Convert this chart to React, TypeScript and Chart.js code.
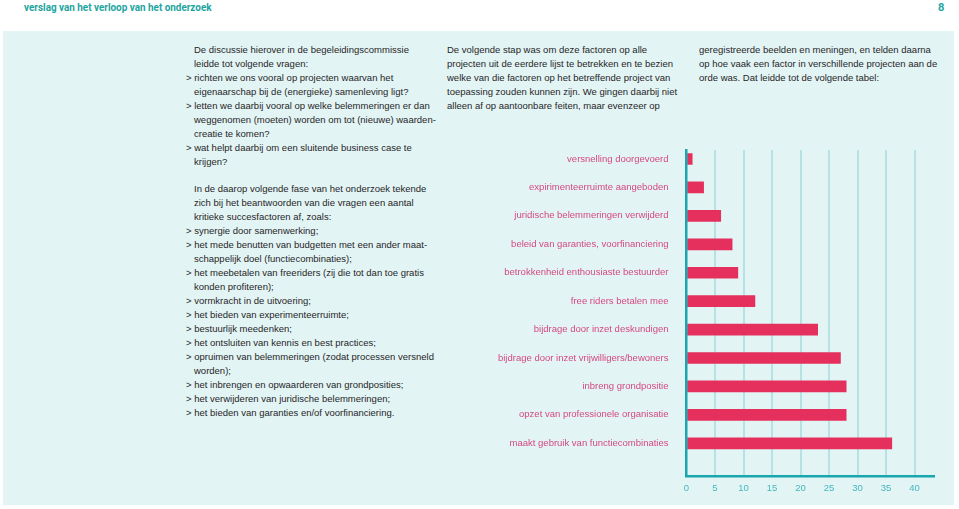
import React, { useEffect, useRef } from "react";
import { Chart, registerables } from "chart.js";

Chart.register(...registerables);

const categories = [
  "versnelling doorgevoerd",
  "expirimenteerruimte aangeboden",
  "juridische belemmeringen verwijderd",
  "beleid van garanties, voorfinanciering",
  "betrokkenheid enthousiaste bestuurder",
  "free riders betalen mee",
  "bijdrage door inzet deskundigen",
  "bijdrage door inzet vrijwilligers/bewoners",
  "inbreng grondpositie",
  "opzet van professionele organisatie",
  "maakt gebruik van functiecombinaties",
];
const counts = [1, 3, 6, 8, 9, 12, 23, 27, 28, 28, 36];
const xTickValues = [0, 5, 10, 15, 20, 25, 30, 35, 40];

const headerTitle = "verslag van het verloop van het onderzoek";
const pageNumber = "8";

const block1 = [
  "De discussie hierover in de begeleidingscommissie",
  "leidde tot volgende vragen:",
  "> richten we ons vooral op projecten waarvan het",
  "eigenaarschap bij de (energieke) samenleving ligt?",
  "> letten we daarbij vooral op welke belemmeringen er dan",
  "weggenomen (moeten) worden om tot (nieuwe) waarden-",
  "creatie te komen?",
  "> wat helpt daarbij om een sluitende business case te",
  "krijgen?",
];
const block2 = [
  "In de daarop volgende fase van het onderzoek tekende",
  "zich bij het beantwoorden van die vragen een aantal",
  "kritieke succesfactoren af, zoals:",
  "> synergie door samenwerking;",
  "> het mede benutten van budgetten met een ander maat-",
  "schappelijk doel (functiecombinaties);",
  "> het meebetalen van freeriders (zij die tot dan toe gratis",
  "konden profiteren);",
  "> vormkracht in de uitvoering;",
  "> het bieden van experimenteerruimte;",
  "> bestuurlijk meedenken;",
  "> het ontsluiten van kennis en best practices;",
  "> opruimen van belemmeringen (zodat processen versneld",
  "worden);",
  "> het inbrengen en opwaarderen van grondposities;",
  "> het verwijderen van juridische belemmeringen;",
  "> het bieden van garanties en/of voorfinanciering.",
];
const block3 = [
  "De volgende stap was om deze factoren op alle",
  "projecten uit de eerdere lijst te betrekken en te bezien",
  "welke van die factoren op het betreffende project van",
  "toepassing zouden kunnen zijn. We gingen daarbij niet",
  "alleen af op aantoonbare feiten, maar evenzeer op",
];
const block4 = [
  "geregistreerde beelden en meningen, en telden daarna",
  "op hoe vaak een factor in verschillende projecten aan de",
  "orde was. Dat leidde tot de volgende tabel:",
];

const FONT = "'Liberation Sans', Arial, Helvetica, sans-serif";
const TEXT_COLOR = "#262626";

function TextBlock({ lines, left, top, bulletLeft }: { lines: string[]; left: number; top: number; bulletLeft?: number }) {
  return (
    <>
      {lines.map((ln, i) => {
        const isBullet = ln.startsWith("> ");
        return (
          <div
            key={i}
            style={{
              position: "absolute",
              left: isBullet && bulletLeft !== undefined ? bulletLeft : left,
              top: top + i * 14,
              height: 14,
              lineHeight: "14px",
              fontSize: "9.5px",
              fontFamily: FONT,
              color: TEXT_COLOR,
              whiteSpace: "pre",
            }}
          >
            {ln}
          </div>
        );
      })}
    </>
  );
}

function BarChart() {
  const ref = useRef<HTMLCanvasElement | null>(null);
  useEffect(() => {
    if (!ref.current) return;
    const chart = new Chart(ref.current, {
      type: "bar",
      data: {
        datasets: [
          {
            data: counts.map((v, i) => ({ x: v, y: i })),
            backgroundColor: "#e5305e",
            borderWidth: 0,
            barThickness: 11,
          },
        ],
      },
      options: {
        indexAxis: "y",
        animation: false,
        responsive: false,
        maintainAspectRatio: false,
        devicePixelRatio: 1,
        layout: { padding: { top: 20, right: 16, left: 0, bottom: 0 } },
        plugins: { legend: { display: false }, tooltip: { enabled: false } },
        scales: {
          x: {
            type: "linear",
            min: 0,
            max: 43.4,
            offset: false,
            afterBuildTicks: (scale: any) => {
              scale.ticks = xTickValues.map((v) => ({ value: v }));
            },
            afterFit: (scale: any) => {
              scale.height = 28.3;
            },
            grid: {
              drawTicks: false,
              lineWidth: 2,
              color: (ctx: any) => (ctx.tick && ctx.tick.value === 0 ? "rgba(0,0,0,0)" : "#b6e1e5"),
            },
            border: { display: true, color: "#1aa6af", width: 2.5, z: 1 },
            ticks: {
              color: "#45b6be",
              padding: 6,
              font: { family: FONT, size: 9.5 },
              maxRotation: 0,
            },
          },
          y: {
            type: "linear",
            reverse: true,
            offset: false,
            min: -0.317,
            max: 11.175,
            afterBuildTicks: (scale: any) => {
              scale.ticks = categories.map((_, i) => ({ value: i }));
            },
            afterFit: (scale: any) => {
              scale.width = 196.5;
            },
            grid: { display: false, offset: false },
            border: { display: true, color: "#1aa6af", width: 2.5, z: 1 },
            ticks: {
              color: "#d4497f",
              padding: 10,
              font: { family: FONT, size: 9.5 },
              callback: (v: any) => categories[v as number] ?? "",
            },
          },
        },
      },
    });
    return () => chart.destroy();
  }, []);
  return (
    <canvas
      ref={ref}
      width={460}
      height={375}
      style={{ position: "absolute", left: 490, top: 130, width: 460, height: 375 }}
    />
  );
}

export default function App() {
  return (
    <div
      style={{
        position: "absolute",
        left: 0,
        top: 0,
        width: 959,
        height: 509,
        background: "#ffffff",
        overflow: "hidden",
      }}
    >
      <div
        style={{
          position: "absolute",
          left: 3,
          top: 31,
          width: 951,
          height: 474,
          background: "#e3f4f5",
        }}
      />
      <div
        style={{
          position: "absolute",
          left: 24,
          top: 0,
          height: 16,
          lineHeight: "16px",
          fontFamily: "Roboto, " + FONT,
          fontWeight: 700,
          fontSize: "11px",
          color: "#1ea5a0",
          whiteSpace: "pre",
          transform: "scaleX(0.9)",
          transformOrigin: "left center",
        }}
      >
        {headerTitle}
      </div>
      <div
        style={{
          position: "absolute",
          left: 938,
          top: 0,
          height: 16,
          lineHeight: "16px",
          fontFamily: "Roboto, " + FONT,
          fontWeight: 700,
          fontSize: "11px",
          color: "#1ea5a0",
        }}
      >
        {pageNumber}
      </div>
      <TextBlock lines={block1} left={194} bulletLeft={186} top={42.7} />
      <TextBlock lines={block2} left={194} bulletLeft={186} top={182.3} />
      <TextBlock lines={block3} left={447} top={43} />
      <TextBlock lines={block4} left={699} top={43} />
      <BarChart />
    </div>
  );
}
